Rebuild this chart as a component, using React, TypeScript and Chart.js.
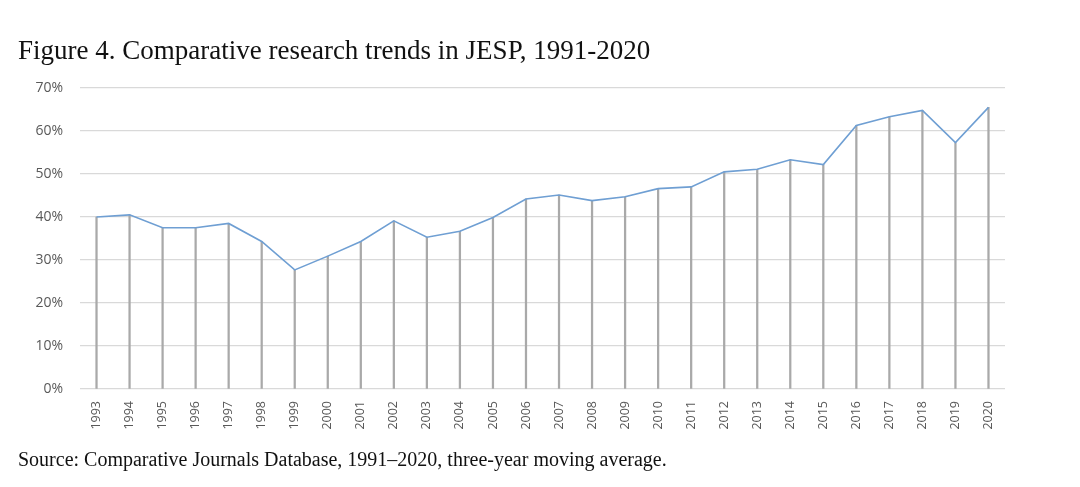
import React, { useEffect, useRef } from "react";
import { Chart, registerables } from "chart.js";

Chart.register(...registerables);

const years: string[] = [
  "1993", "1994", "1995", "1996", "1997", "1998", "1999", "2000", "2001", "2002",
  "2003", "2004", "2005", "2006", "2007", "2008", "2009", "2010", "2011", "2012",
  "2013", "2014", "2015", "2016", "2017", "2018", "2019", "2020",
];

const shares: number[] = [
  40.0, 40.5, 37.5, 37.5, 38.5, 34.3, 27.7, 30.9, 34.3, 39.1,
  35.3, 36.7, 39.9, 44.2, 45.1, 43.8, 44.7, 46.6, 47.0, 50.5,
  51.1, 53.3, 52.2, 61.3, 63.3, 64.8, 57.3, 65.5,
];

const yTicks: number[] = [0, 10, 20, 30, 40, 50, 60, 70];

const titleText = "Figure 4. Comparative research trends in JESP, 1991-2020";
const sourceText = "Source: Comparative Journals Database, 1991\u20132020, three-year moving average.";

export default function App() {
  const canvasRef = useRef<HTMLCanvasElement | null>(null);

  useEffect(() => {
    if (!canvasRef.current) return;
    const chart = new Chart(canvasRef.current, {
      type: "bar",
      data: {
        labels: years,
        datasets: [
          {
            type: "line",
            data: shares,
            borderColor: "#6f9fd3",
            borderWidth: 1.6,
            pointRadius: 0,
            tension: 0,
            fill: false,
            order: 0,
          } as any,
          {
            type: "bar",
            data: shares,
            backgroundColor: "#a9a9a9",
            barThickness: 1.6,
            order: 1,
          } as any,
        ],
      },
      options: {
        animation: false,
        responsive: false,
        maintainAspectRatio: false,
        layout: { padding: { left: 0, right: 75, top: 88, bottom: 0 } },
        plugins: {
          legend: { display: false },
          tooltip: { enabled: false },
          title: { display: false },
        },
        scales: {
          x: {
            offset: true,
            grid: { display: false, drawTicks: false },
            border: { display: false },
            ticks: {
              minRotation: 90,
              maxRotation: 90,
              padding: 12,
              color: "#595959",
              font: { family: "'Open Sans', 'Noto Sans', sans-serif", size: 12.5 },
              autoSkip: false,
            },
            afterFit: (scale: any) => {
              scale.height = 98;
            },
          },
          y: {
            min: 0,
            max: 70,
            afterBuildTicks: (scale: any) => {
              scale.ticks = yTicks.map((v) => ({ value: v }));
            },
            grid: { color: "#d9d9d9", lineWidth: 1.2, drawTicks: false },
            border: { display: false },
            ticks: {
              padding: 17,
              color: "#595959",
              font: { family: "'Open Sans', 'Noto Sans', sans-serif", size: 14 },
              callback: (v: any) => `${v}%`,
            },
            afterFit: (scale: any) => {
              scale.width = 80;
            },
          },
        },
      },
    });
    return () => chart.destroy();
  }, []);

  return (
    <div
      style={{
        position: "absolute",
        left: 0,
        top: 0,
        width: 1080,
        height: 487,
        background: "#ffffff",
        overflow: "hidden",
      }}
    >
      <canvas
        ref={canvasRef}
        width={1080}
        height={487}
        style={{ position: "absolute", left: 0, top: 0, width: 1080, height: 487 }}
      />
      <div
        style={{
          position: "absolute",
          left: 18,
          top: 35,
          fontFamily: "'Liberation Serif', 'Times New Roman', serif",
          fontSize: 27,
          color: "#111111",
          whiteSpace: "nowrap",
          lineHeight: "30px",
        }}
      >
        {titleText}
      </div>
      <div
        style={{
          position: "absolute",
          left: 18,
          top: 448,
          fontFamily: "'Liberation Serif', 'Times New Roman', serif",
          fontSize: 20,
          color: "#111111",
          whiteSpace: "nowrap",
          lineHeight: "22px",
        }}
      >
        {sourceText}
      </div>
    </div>
  );
}
